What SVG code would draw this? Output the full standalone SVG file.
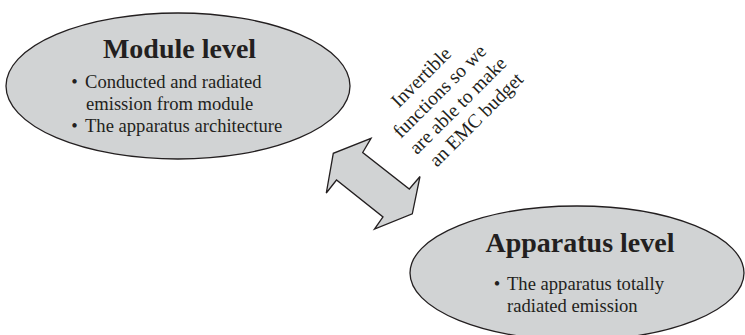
<svg xmlns="http://www.w3.org/2000/svg" width="745" height="335" viewBox="0 0 745 335">
<style>
.shape{fill:#d1d3d4;stroke:#231f20;stroke-width:1.3}
.title{font-family:"Liberation Serif","Times New Roman",serif;font-weight:bold;font-size:28px;fill:#231f20;text-anchor:middle}
.body{font-family:"Liberation Serif","Times New Roman",serif;font-size:18.6px;fill:#231f20}
.bul{font-family:"Liberation Serif","Times New Roman",serif;font-size:18.6px;fill:#231f20;text-anchor:middle}
.note{font-family:"Liberation Serif","Times New Roman",serif;font-size:19.5px;fill:#231f20;text-anchor:middle}
</style>
<rect width="745" height="335" fill="#ffffff"/>
<g id="module">
<ellipse class="shape" cx="178" cy="86" rx="172" ry="73"/>
<text class="title" x="179.5" y="58">Module level</text>
<text class="bul" x="74.5" y="88">•</text>
<text class="body" x="85" y="88">Conducted and radiated</text>
<text class="body" x="86" y="110">emission from module</text>
<text class="bul" x="74.5" y="132">•</text>
<text class="body" x="85" y="132">The apparatus architecture</text>
</g>
<g id="apparatus">
<ellipse class="shape" cx="577" cy="273" rx="167" ry="67"/>
<text class="title" x="580" y="252">Apparatus level</text>
<text class="bul" x="497" y="290">•</text>
<text class="body" x="507" y="290">The apparatus totally</text>
<text class="body" x="507" y="312">radiated emission</text>
</g>
<g id="connectors">
<polygon class="shape" stroke-linejoin="miter" points="371,138.3 362.7,152.5 409.3,189 420,176.5 412.3,213.8 374.5,229 383,217 336.5,180 326.3,193 333.3,153.3"/>
</g>
<g id="note" transform="translate(425.6,81.6) rotate(-45)">
<text class="note" x="0" y="0">Invertible</text>
<text class="note" x="3" y="23">functions so we</text>
<text class="note" x="6" y="46">are able to make</text>
<text class="note" x="9" y="69">an EMC budget</text>
</g>
</svg>
